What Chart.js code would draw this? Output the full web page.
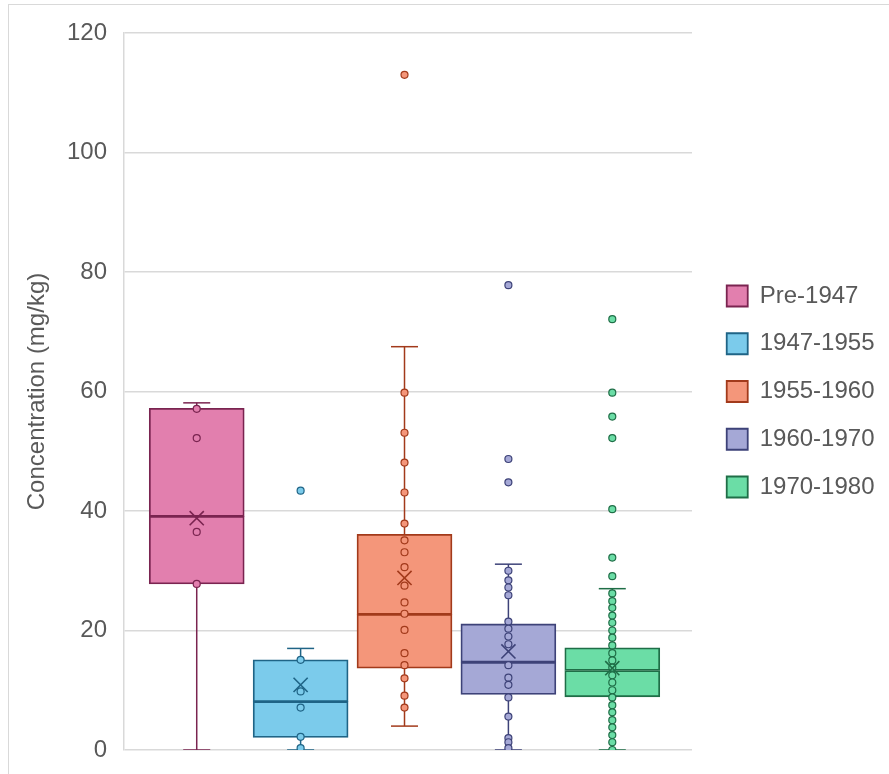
<!DOCTYPE html>
<html>
<head>
<meta charset="utf-8">
<script src="https://cdn.jsdelivr.net/npm/chart.js@4.4.1/dist/chart.umd.min.js"></script>
<style>
  body { margin: 0; background: #fff; }
  #frame { position: absolute; left: 8px; top: 4px; width: 880px; height: 800px;
           border-top: 1px solid #d9d9d9; border-left: 1px solid #d9d9d9; }
  #wrap { position: absolute; left: 0; top: 0; width: 889px; height: 774px; }
</style>
</head>
<body>
<div id="frame"></div>
<div id="wrap"><canvas id="myChart"></canvas></div>
<script>
// periodos de construccion
var grupos = ["Pre-1947", "1947-1955", "1955-1960", "1960-1970", "1970-1980"];

// resumen de cada caja (mg/kg)
var bigoteMin = [0, 0, 4.0, 0, 0];
var q1 = [27.8, 2.1, 13.7, 9.3, 8.9];
var mediana = [39.1, 8.1, 22.7, 14.7, 13.3];
var q3 = [57.2, 15.1, 36.1, 21.1, 17.1];
var bigoteMax = [58.1, 17.0, 67.5, 31.1, 27.0];
var medias = [38.8, 10.9, 28.8, 16.5, 13.7];

// puntos de cada grupo
var puntosPre1947 = [57.1, 52.2, 36.5, 27.8];
var puntos1947 = [43.4, 15.1, 9.8, 7.1, 2.2, 0.3];
var puntos1955 = [113, 59.8, 53.1, 48.1, 43.1, 37.9, 35.1, 33.1, 30.6, 27.5, 24.7, 22.8, 20.1, 16.2, 14.2, 12.0, 9.1, 7.1];
var puntos1960 = [77.8, 48.7, 44.8, 30.0, 28.4, 27.2, 25.9, 21.5, 20.3, 19.0, 17.7, 14.2, 12.1, 10.9, 8.8, 5.6, 2.0, 1.3, 0.3];
var puntos1970 = [72.1, 59.8, 55.8, 52.2, 40.3, 32.2, 29.1, 26.2, 24.9, 23.8, 22.5, 21.3, 20.0, 18.8, 17.5, 16.2, 15.0, 13.8, 12.5, 11.3, 10.0, 8.8, 7.5, 6.3, 5.0, 3.8, 2.5, 1.3, 0];
var puntos = [puntosPre1947, puntos1947, puntos1955, puntos1960, puntos1970];

var yTicks = [0, 20, 40, 60, 80, 100, 120];

var relleno = ["#E27FAE", "#7BCBEB", "#F4967A", "#A5A8D6", "#6BDDA6"];
var borde = ["#7A2450", "#1F6486", "#A23A1B", "#3D4278", "#1F6E47"];

var gris = "#595959";
var fuente = "'Liberation Sans', Arial, sans-serif";

var datasets = [];
grupos.forEach(function (nombre, i) {
  // mitad inferior de la caja (sale en la leyenda)
  datasets.push({
    type: "bar", label: nombre, enLeyenda: true,
    data: [{ x: i, y: [q1[i], mediana[i]] }],
    backgroundColor: relleno[i], borderColor: borde[i], borderWidth: 1.8,
    borderSkipped: false, barThickness: 95, grouped: false, order: 2
  });
  // mitad superior
  datasets.push({
    type: "bar", label: nombre,
    data: [{ x: i, y: [mediana[i], q3[i]] }],
    backgroundColor: relleno[i], borderColor: borde[i], borderWidth: 1.8,
    borderSkipped: false, barThickness: 95, grouped: false, order: 2
  });
  // bigotes con sus topes
  datasets.push({
    type: "line", label: nombre + " bigote",
    data: [{ x: i, y: bigoteMin[i] }, { x: i, y: bigoteMax[i] }],
    borderColor: borde[i], borderWidth: 1.5,
    pointStyle: "line", pointRadius: 13.5, pointBorderColor: borde[i], pointBorderWidth: 1.5,
    order: 3
  });
  // puntos
  datasets.push({
    type: "scatter", label: nombre + " puntos",
    data: puntos[i].map(function (v) { return { x: i, y: v }; }),
    pointRadius: 3.5, pointBackgroundColor: relleno[i], pointBorderColor: borde[i], pointBorderWidth: 1.2,
    order: 1
  });
  // media (X)
  datasets.push({
    type: "scatter", label: nombre + " media",
    data: [{ x: i, y: medias[i] }],
    pointStyle: "crossRot", pointRadius: 10, pointBorderColor: borde[i], pointBorderWidth: 1.6,
    order: 0
  });
});

// deja un hueco de 11px entre el area del grafico y la leyenda
var huecoLeyenda = {
  id: "huecoLeyenda",
  beforeInit: function (chart) {
    var lg = chart.legend;
    var fit = lg.fit;
    lg.fit = function () { fit.call(this); this.width += 11; };
    var dibujar = lg._draw;
    lg._draw = function () { this.left += 11; dibujar.call(this); this.left -= 11; };
  }
};

new Chart("myChart", {
  type: "bar",
  data: { datasets: datasets },
  plugins: [huecoLeyenda],
  options: {
    responsive: true,
    maintainAspectRatio: false,
    animation: false,
    layout: { padding: { left: 18.6, top: 33, bottom: 24, right: 4.5 } },
    scales: {
      x: {
        type: "linear", display: false, offset: false,
        min: -0.70, max: 4.767
      },
      y: {
        min: 0, max: 120,
        afterBuildTicks: function (s) { s.ticks = yTicks.map(function (v) { return { value: v }; }); },
        grid: { color: "#d9d9d9", lineWidth: 1.5, drawTicks: false },
        border: { display: true, color: "#d9d9d9", width: 1.5 },
        ticks: { padding: 17, color: gris, font: { family: fuente, size: 24 } },
        title: { display: true, text: "Concentration (mg/kg)", color: gris, font: { family: fuente, size: 24 } },
        afterFit: function (s) { s.width = 105.4; s.paddingTop = 0; s.paddingBottom = 0; }
      }
    },
    plugins: {
      tooltip: { enabled: false },
      legend: {
        position: "right",
        labels: {
          boxWidth: 21, boxHeight: 21, padding: 23.75,
          color: gris, font: { family: fuente, size: 24 },
          filter: function (item, data) { return data.datasets[item.datasetIndex].enLeyenda === true; }
        }
      }
    }
  }
});
</script>
</body>
</html>
